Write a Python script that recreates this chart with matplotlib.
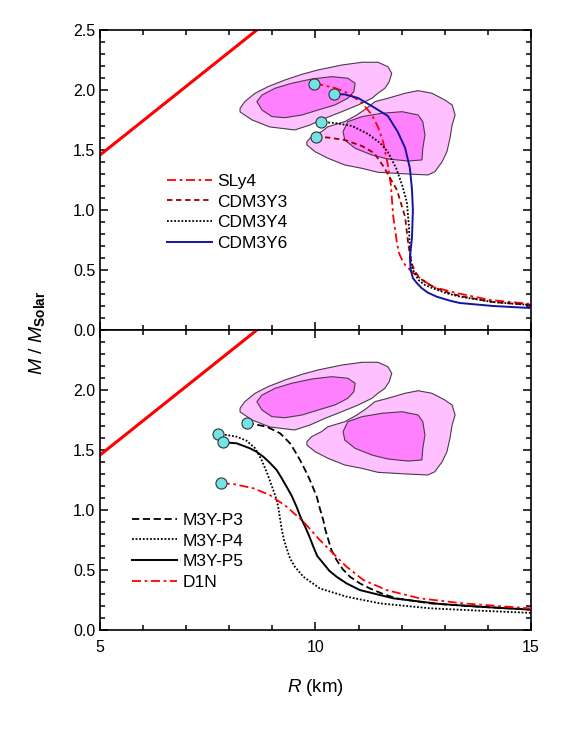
import matplotlib
matplotlib.use("Agg")
import matplotlib.pyplot as plt
from matplotlib.ticker import MultipleLocator
from matplotlib.patches import Polygon

plt.rcParams['font.family'] = ['Liberation Sans', 'DejaVu Sans']
plt.rcParams['mathtext.fontset'] = 'custom'
plt.rcParams['mathtext.rm'] = 'Liberation Sans'
plt.rcParams['mathtext.it'] = 'Liberation Sans:italic'
plt.rcParams['mathtext.bf'] = 'Liberation Sans:bold'

# --- data (R in km, M in solar masses) ---
# causality-type straight line
line_R = [5.0, 8.64]
line_M = [1.458, 2.5]

# confidence contours (same in both panels)
outer_ul_R = [8.25, 8.36, 8.60, 8.90, 9.29, 9.69, 10.06, 10.61, 11.08, 11.45, 11.68, 11.77,
              11.71, 11.61, 11.45, 11.31, 10.99, 10.61, 10.22, 9.87, 9.52, 8.94, 8.53, 8.25]
outer_ul_M = [1.848, 1.903, 1.973, 2.028, 2.083, 2.131, 2.167, 2.208, 2.231, 2.231, 2.194, 2.139,
              2.069, 2.014, 1.973, 1.931, 1.875, 1.819, 1.764, 1.708, 1.667, 1.692, 1.75, 1.817]
inner_ul_R = [8.64, 8.76, 9.06, 9.45, 9.92, 10.38, 10.75, 10.92, 10.89, 10.75, 10.45, 10.06,
              9.69, 9.29, 8.99, 8.76]
inner_ul_M = [1.903, 1.958, 2.014, 2.056, 2.092, 2.111, 2.098, 2.056, 1.986, 1.931, 1.875, 1.833,
              1.792, 1.769, 1.778, 1.833]
outer_lr_R = [9.80, 9.91, 10.14, 10.29, 10.68, 10.96, 11.19, 11.38, 11.68, 12.08, 12.38, 12.70,
              13.00, 13.17, 13.24, 13.17, 13.12, 13.05, 12.94, 12.77, 12.61, 12.24, 11.84, 11.45,
              11.08, 10.68, 10.29, 9.99, 9.80]
outer_lr_M = [1.569, 1.611, 1.653, 1.694, 1.736, 1.792, 1.848, 1.903, 1.931, 1.973, 1.994, 1.973,
              1.917, 1.875, 1.792, 1.708, 1.597, 1.486, 1.403, 1.319, 1.292, 1.298, 1.306, 1.314,
              1.347, 1.375, 1.431, 1.486, 1.542]
inner_lr_R = [10.64, 10.75, 11.08, 11.54, 12.01, 12.38, 12.49, 12.54, 12.49, 12.47, 12.15, 11.68,
              11.31, 10.92, 10.68]
inner_lr_M = [1.653, 1.736, 1.778, 1.806, 1.819, 1.792, 1.736, 1.625, 1.514, 1.417, 1.408, 1.425,
              1.458, 1.514, 1.583]

# top panel M-R curves
sly4_R = [9.97, 10.15, 10.45, 10.75, 11.08, 11.31, 11.45, 11.57, 11.68, 11.75, 11.80, 11.89,
          11.94, 12.01, 12.08, 12.15, 12.26, 12.42, 12.73, 13.28, 14.05, 15.0]
sly4_M = [2.05, 2.042, 2.017, 1.975, 1.892, 1.792, 1.692, 1.567, 1.375, 1.208, 0.958, 0.725,
          0.639, 0.583, 0.542, 0.517, 0.478, 0.433, 0.358, 0.308, 0.25, 0.217]
y3_R = [10.01, 10.29, 10.68, 11.08, 11.36, 11.57, 11.73, 11.89, 12.08, 12.15, 12.19, 12.23,
        12.31, 12.42, 12.62, 12.81, 13.12, 13.43, 14.12, 15.0]
y3_M = [1.608, 1.604, 1.583, 1.533, 1.475, 1.367, 1.267, 1.167, 0.942, 0.722, 0.639, 0.556,
        0.486, 0.431, 0.383, 0.347, 0.306, 0.278, 0.233, 0.208]
y4_R = [10.13, 10.45, 10.85, 11.22, 11.50, 11.68, 11.87, 12.01, 12.12, 12.17, 12.19, 12.23,
        12.31, 12.39, 12.54, 12.73, 13.04, 13.35, 14.12, 15.0]
y4_M = [1.733, 1.725, 1.70, 1.633, 1.558, 1.483, 1.35, 1.208, 1.067, 0.858, 0.667, 0.528,
        0.467, 0.417, 0.375, 0.347, 0.306, 0.278, 0.233, 0.208]
y6_R = [10.43, 10.68, 10.99, 11.38, 11.68, 11.91, 12.08, 12.19, 12.24, 12.26, 12.24, 12.19,
        12.21, 12.26, 12.35, 12.46, 12.61, 12.81, 13.12, 13.35, 14.12, 15.0]
y6_M = [1.967, 1.963, 1.933, 1.85, 1.783, 1.65, 1.517, 1.35, 1.167, 1.0, 0.775, 0.60,
        0.50, 0.433, 0.392, 0.35, 0.311, 0.278, 0.244, 0.225, 0.20, 0.183]

# bottom panel M-R curves
p3_R = [8.40, 8.63, 8.87, 9.18, 9.41, 9.52, 9.64, 9.76, 9.87, 9.95, 10.03, 10.10, 10.18, 10.23,
        10.30, 10.37, 10.49, 10.63, 10.80, 11.03, 11.26, 11.57, 11.88, 12.66, 13.82, 15.0]
p3_M = [1.723, 1.711, 1.694, 1.639, 1.556, 1.492, 1.417, 1.333, 1.25, 1.181, 1.111, 1.014, 0.917,
        0.833, 0.75, 0.667, 0.583, 0.508, 0.444, 0.389, 0.347, 0.30, 0.264, 0.222, 0.194, 0.17]
p4_R = [7.73, 7.94, 8.17, 8.40, 8.60, 8.75, 8.88, 9.02, 9.10, 9.14, 9.22, 9.27, 9.33, 9.41,
        9.52, 9.72, 10.10, 10.72, 11.50, 12.66, 13.82, 15.0]
p4_M = [1.631, 1.625, 1.611, 1.578, 1.514, 1.417, 1.306, 1.167, 1.083, 1.014, 0.833, 0.75,
        0.681, 0.597, 0.528, 0.444, 0.347, 0.278, 0.222, 0.181, 0.161, 0.143]
p5_R = [7.86, 8.17, 8.48, 8.63, 8.79, 8.94, 9.10, 9.21, 9.33, 9.45, 9.56, 9.65, 9.76, 9.86,
        9.95, 10.04, 10.18, 10.32, 10.49, 10.72, 11.03, 11.81, 12.89, 13.82, 15.0]
p5_M = [1.564, 1.556, 1.514, 1.486, 1.444, 1.394, 1.333, 1.269, 1.194, 1.117, 1.028, 0.944,
        0.861, 0.778, 0.694, 0.617, 0.556, 0.494, 0.444, 0.389, 0.333, 0.264, 0.217, 0.194, 0.17]
d1n_R = [7.80, 8.09, 8.56, 8.94, 9.33, 9.72, 10.10, 10.41, 10.72, 11.11, 11.65, 12.42, 13.43,
         15.0]
d1n_M = [1.222, 1.217, 1.181, 1.125, 1.028, 0.903, 0.75, 0.639, 0.528, 0.417, 0.333, 0.264,
         0.222, 0.18]

RED = '#ff0000'
DRED = '#990000'
BLUE = '#1414a0'
CYAN = '#72e4e6'
PINK_OUT = '#ffc0ff'
PINK_IN = '#ff80ff'
DASHDOT = (5, 2, 1.5, 2)


def draw_contours(ax):
    for R, M, c in [(outer_ul_R, outer_ul_M, PINK_OUT), (outer_lr_R, outer_lr_M, PINK_OUT),
                    (inner_ul_R, inner_ul_M, PINK_IN), (inner_lr_R, inner_lr_M, PINK_IN)]:
        ax.add_patch(Polygon(list(zip(R, M)), closed=True, facecolor=c,
                             edgecolor='#4a3a4a', lw=0.8, zorder=1))
    ax.plot(line_R, line_M, color=RED, lw=2.2, zorder=2)


def style_axis(ax):
    ax.set_xlim(5, 15)
    ax.set_ylim(0, 2.5)
    ax.xaxis.set_major_locator(MultipleLocator(5))
    ax.xaxis.set_minor_locator(MultipleLocator(1))
    ax.yaxis.set_major_locator(MultipleLocator(0.5))
    ax.yaxis.set_minor_locator(MultipleLocator(0.1))
    ax.tick_params(which='both', direction='in', top=True, right=True, width=1.1,
                   labelsize=11.5)
    ax.tick_params(which='major', length=6)
    ax.tick_params(which='minor', length=3.5)
    ax.tick_params(axis='x', pad=7)
    ax.yaxis.set_major_formatter(plt.FuncFormatter(lambda v, p: f"{v:.1f}"))
    for s in ax.spines.values():
        s.set_linewidth(1.2)


fig, (ax1, ax2) = plt.subplots(2, 1, figsize=(5.81, 7.53), dpi=100, sharex=True)
fig.subplots_adjust(left=0.1721, right=0.9139, top=0.9602, bottom=0.1633, hspace=0)

leg_kw = dict(loc='center left', frameon=False, fontsize=12.5, handlelength=2.6,
              handletextpad=0.3, labelspacing=0.33, borderpad=0, borderaxespad=0)

# top panel
draw_contours(ax1)
ax1.plot(sly4_R, sly4_M, color=RED, lw=1.3, dashes=DASHDOT, label='SLy4', zorder=3)
ax1.plot(y3_R, y3_M, color=DRED, lw=1.3, dashes=(3, 2), label='CDM3Y3', zorder=3)
ax1.plot(y4_R, y4_M, color='black', lw=1.3, dashes=(1, 1), label='CDM3Y4', zorder=3)
ax1.plot(y6_R, y6_M, color=BLUE, lw=1.4, label='CDM3Y6', zorder=3)
for R, M in [(sly4_R, sly4_M), (y3_R, y3_M), (y4_R, y4_M), (y6_R, y6_M)]:
    ax1.plot(R[0], M[0], 'o', ms=8, mfc=CYAN, mec='#333333', mew=0.8, zorder=4)
style_axis(ax1)
ax1.tick_params(labelbottom=False)
ax1.legend(bbox_to_anchor=(0.155, 0.392), **leg_kw)

# bottom panel
draw_contours(ax2)
ax2.plot(p3_R, p3_M, color='black', lw=1.3, dashes=(4, 2), label='M3Y-P3', zorder=3)
ax2.plot(p4_R, p4_M, color='black', lw=1.3, dashes=(1, 1), label='M3Y-P4', zorder=3)
ax2.plot(p5_R, p5_M, color='black', lw=1.4, label='M3Y-P5', zorder=3)
ax2.plot(d1n_R, d1n_M, color=RED, lw=1.3, dashes=DASHDOT, label='D1N', zorder=3)
for R, M in [(p3_R, p3_M), (p4_R, p4_M), (p5_R, p5_M), (d1n_R, d1n_M)]:
    ax2.plot(R[0], M[0], 'o', ms=8, mfc=CYAN, mec='#333333', mew=0.8, zorder=4)
style_axis(ax2)
ax2.set_yticks([0.0, 0.5, 1.0, 1.5, 2.0])
ax2.legend(bbox_to_anchor=(0.074, 0.262), **leg_kw)

ax2.set_xlabel(r'$\mathit{R}$ (km)', fontsize=13.5, labelpad=16)
fig.text(0.063, 0.558, r'$\mathit{M}$ / $\mathit{M}_{\mathbf{Solar}}$', rotation=90,
         fontsize=14, ha='center', va='center')

fig.savefig('out.png', dpi=100)
